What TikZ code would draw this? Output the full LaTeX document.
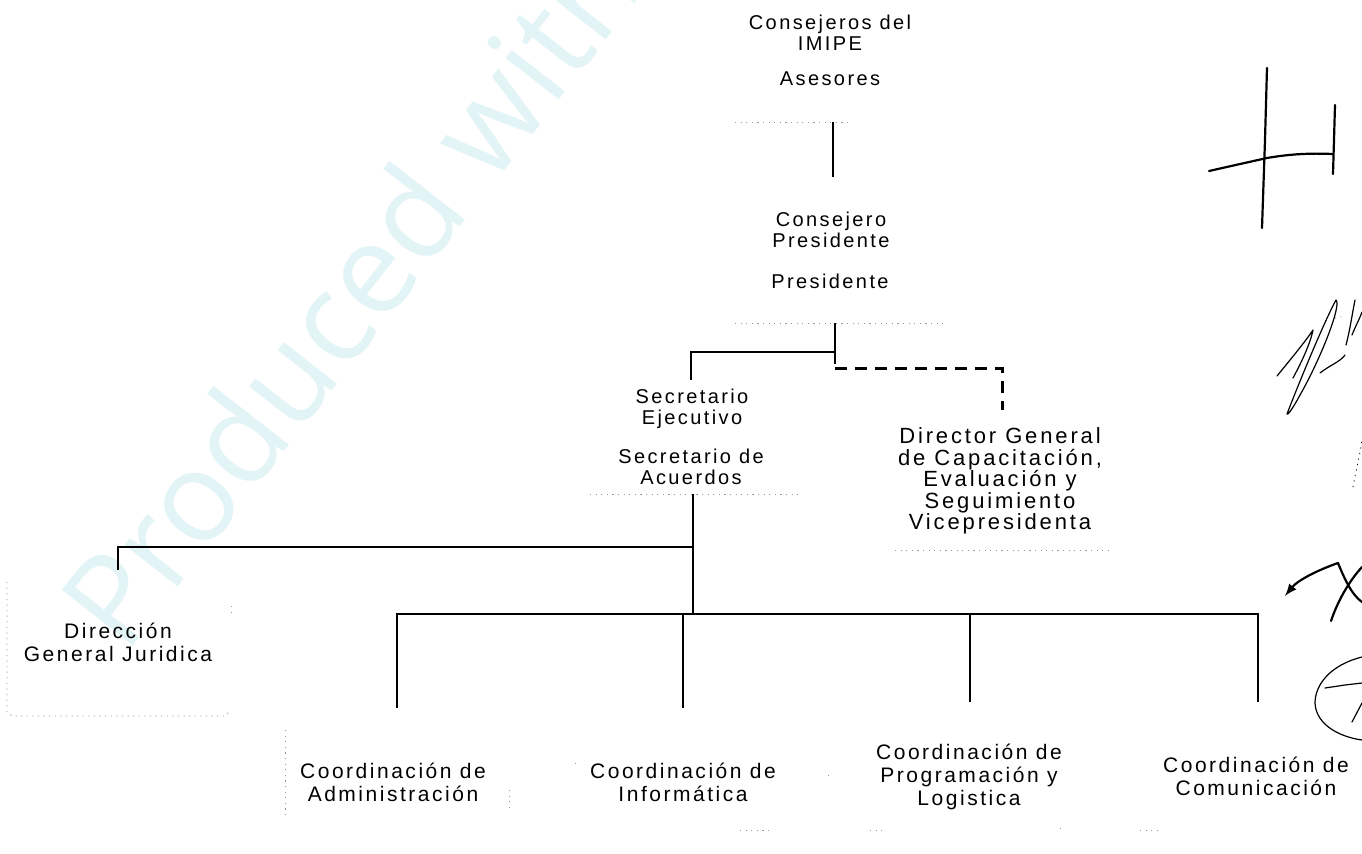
\documentclass[tikz,border=0pt]{standalone}
\usepackage{fontspec}
\setmainfont{Liberation Sans}[LetterSpace=12]
\newfontfamily\dirfont{Liberation Sans}[LetterSpace=13]
\newfontfamily\wmfont{Open Sans}
\definecolor{wmcyan}{RGB}{227,244,246}
\definecolor{faintgray}{RGB}{150,150,150}
\begin{document}
\begin{tikzpicture}[x=0.5pt,y=-0.5pt,
  lbl/.style={font=\fontsize{10}{10.5}\selectfont, align=center, inner sep=0pt},
  lbltight/.style={font=\dirfont\fontsize{11}{10.8}\selectfont, align=center, inner sep=0pt},
  lblwide/.style={font=\fontsize{10.5}{11.6}\selectfont, align=center, inner sep=0pt},
  conn/.style={line width=1pt, black},
  thinconn/.style={line width=0.75pt, black},
  dashconn/.style={line width=1.5pt, black, dash pattern=on 6pt off 4pt},
  faint/.style={line width=0.4pt, faintgray, dash pattern=on 0.6pt off 2.2pt},
  sig/.style={line width=1.1pt, black, line cap=round, line join=round},
  sigthin/.style={line width=0.6pt, black, line cap=round, line join=round}]
\useasboundingbox (0,0) rectangle (1362,853);

% watermark
\node[font=\wmfont\fontsize{63}{63}\selectfont, text=wmcyan, rotate=52, anchor=base west, inner sep=0pt] (wm) at (125,656) {Produced with};

% text nodes
\node[lbl] (consejeros) at (830,33) {Consejeros del\\IMIPE};
\node[lbl] (asesores) at (830,79) {Asesores};
\node[lbl] (consejero) at (831,230) {Consejero\\Presidente};
\node[lbl] (presidente) at (830,281) {Presidente};
\node[lbl] (secej) at (692,409) {Secretario\\Ejecutivo};
\node[lbl] (secacu) at (691,467) {Secretario de\\Acuerdos};
\node[lbltight] (director) at (1000,481) {Director General\\de Capacitación,\\Evaluación y\\Seguimiento\\Vicepresidenta};
\node[lblwide] (direccion) at (118,642) {Dirección\\General Juridica};
\node[lblwide] (admin) at (393,782) {Coordinación de\\Administración};
\node[lblwide] (info) at (683,782) {Coordinación de\\Informática};
\node[lblwide] (prog) at (969,777) {Coordinación de\\Programación y\\Logistica};
\node[lblwide] (comu) at (1256,776) {Coordinación de\\Comunicación};

% connector coordinates
\coordinate (asesB) at (833,122);
\coordinate (presT) at (833,177);
\coordinate (presB) at (835,323);
\coordinate (j1) at (835,352);
\coordinate (j1end) at (835,364);
\coordinate (j2) at (835,368);
\coordinate (secT) at (691,380);
\coordinate (dirT) at (1002,410);
\coordinate (secB) at (693,494);
\coordinate (j3) at (693,547);
\coordinate (bus) at (693,614);
\coordinate (dgjT) at (118,570);
\coordinate (admT) at (397,708);
\coordinate (infT) at (683,708);
\coordinate (proT) at (970,702);
\coordinate (comT) at (1258,702);

% connectors
\draw[thinconn] (asesB) -- (presT);
\draw[conn] (presB) -- (j1end);
\draw[conn] (j1) -| (secT);
\draw[dashconn] (j2) -| (dirT);
\draw[thinconn] (secB) -- (bus);
\draw[conn] (j3) -| (dgjT);
\draw[conn] (admT) |- (bus) -| (comT);
\draw[thinconn] (infT) -- (infT |- bus);
\draw[thinconn] (proT) -- (proT |- bus);

% faint box remnants
\draw[faint] (735,122) -- (850,122);
\draw[faint] (735,323) -- (945,323);
\draw[faint] (590,494) -- (800,494);
\draw[faint] (895,550) -- (1110,550);
\draw[faint] (7,582) -- (7,712) -- (12,716) -- (225,716) -- (229,712);
\draw[faint] (231,606) -- (231,616);
\draw[faint] (285,730) -- (285,818);
\draw[faint] (509,790) -- (509,812);
\draw[faint] (575,763) -- (575,768);
\draw[faint] (828,775) -- (828,780);
\draw[faint] (740,830) -- (770,830);
\draw[faint] (870,830) -- (885,830);
\draw[faint] (1060,828) -- (1065,828);
\draw[faint] (1140,830) -- (1160,830);
\draw[faint] (1335,318) -- (1345,316);

% signatures
\draw[sig] (1267,68) -- (1265,140) -- (1262,228);
\draw[sig] (1209,171) .. controls (1240,164) and (1258,160) .. (1267,158) .. controls (1290,154) and (1310,153) .. (1333,154);
\draw[sig] (1335,105) -- (1334,140) -- (1333,174);
\draw[sigthin] (1287,414) .. controls (1300,380) and (1325,320) .. (1336,300) .. controls (1342,305) and (1320,360) .. (1300,395) .. controls (1292,410) and (1287,416) .. (1287,414);
\draw[sigthin] (1277,376) .. controls (1290,360) and (1305,342) .. (1313,330) .. controls (1310,345) and (1300,365) .. (1293,378);
\draw[sigthin] (1320,373) .. controls (1330,365) and (1340,362) .. (1345,355);
\draw[sigthin] (1346,345) .. controls (1350,330) and (1352,315) .. (1355,300);
\draw[sigthin] (1352,335) .. controls (1356,325) and (1360,318) .. (1362,312);
\draw[faint, black] (1353,487) .. controls (1356,470) and (1360,455) .. (1362,440);
\draw[sig, -latex] (1338,563) .. controls (1318,570) and (1298,580) .. (1285,596);
\draw[sig] (1338,563) .. controls (1345,580) and (1352,595) .. (1362,602);
\draw[sig] (1362,567) .. controls (1350,580) and (1338,600) .. (1331,621);
\draw[sigthin] (1362,657) .. controls (1330,665) and (1315,685) .. (1315,703) .. controls (1316,725) and (1340,737) .. (1362,740);
\draw[sigthin] (1325,688) -- (1345,685) -- (1362,683);
\draw[sigthin] (1352,722) -- (1362,703);
\end{tikzpicture}
\end{document}
